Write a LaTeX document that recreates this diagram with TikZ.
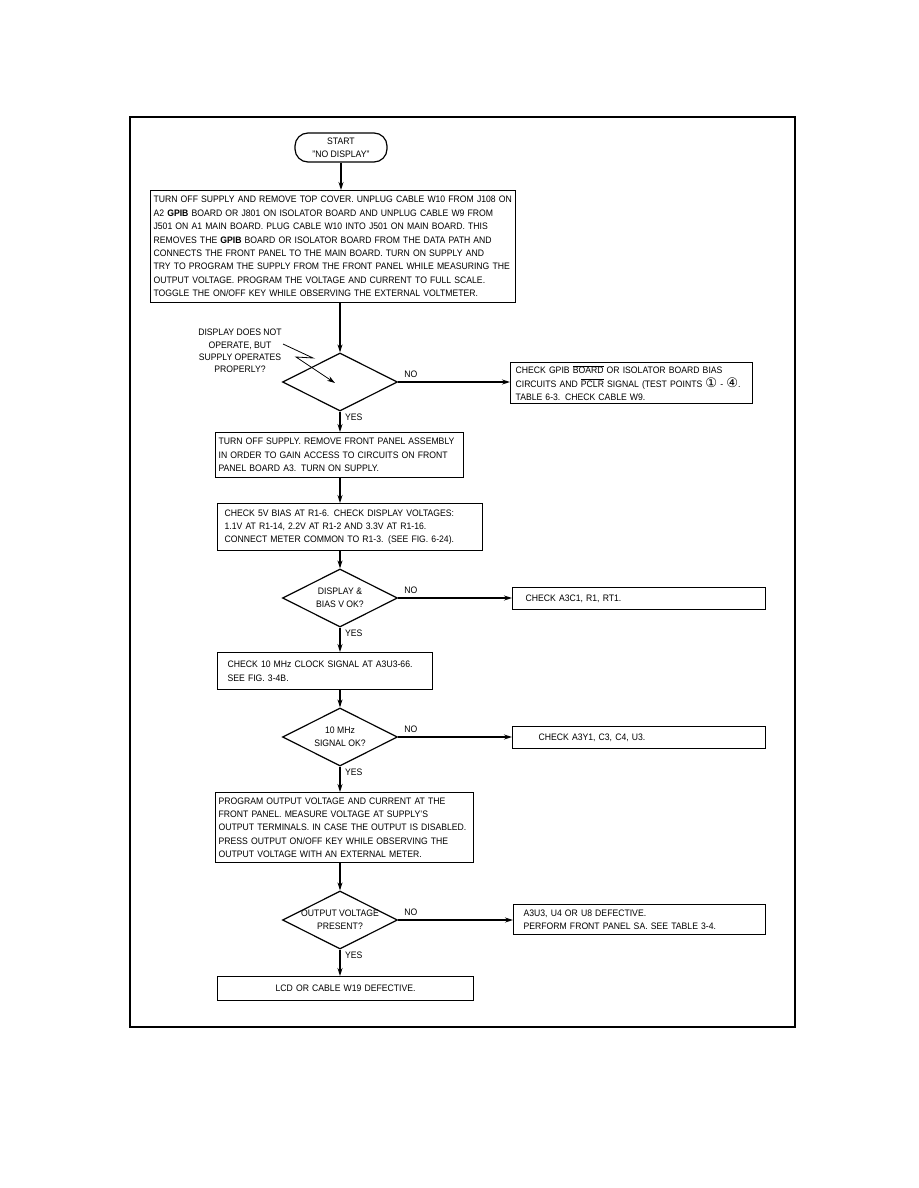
\documentclass[tikz,border=0pt]{standalone}
\usepackage{fontspec}
\setmainfont{Liberation Sans}[FakeStretch=0.92]
\newfontfamily\circfont[Scale=1.4]{DejaVu Sans}
\usetikzlibrary{shapes.geometric,arrows.meta}

\tikzset{
  box/.style={draw, line width=1.2pt, anchor=north west, align=left, inner xsep=3pt, inner ysep=0pt},
  decide/.style={draw, line width=1.2pt, diamond, aspect=2, minimum width=115pt, minimum height=58pt, inner sep=-3pt, align=center},
  arr/.style={line width=1.1pt, -{Stealth[length=8pt,width=5pt]}},
  lbl/.style={inner sep=1pt}
}

\begin{document}
\begin{tikzpicture}[x=1pt, y=-1pt, font=\fontsize{9.4}{13.4}\selectfont]

\useasboundingbox (0,0) rectangle (918,1188);
\draw[line width=2.5pt] (130,117) rectangle (795,1027);

\node[draw, line width=1.2pt, rounded corners=13pt, minimum width=92pt, minimum height=29pt, align=center] (start) at (341,147.5) {START\\"NO DISPLAY"};

\node[box, minimum width=365pt, minimum height=112pt, text width=359pt] (b1) at (150,190)
  {TURN OFF SUPPLY AND REMOVE TOP COVER. UNPLUG CABLE W10 FROM J108 ON\\
   A2 \textbf{GPIB} BOARD OR J801 ON ISOLATOR BOARD AND UNPLUG CABLE W9 FROM\\
   J501 ON A1 MAIN BOARD. PLUG CABLE W10 INTO J501 ON MAIN BOARD. THIS\\
   REMOVES THE \textbf{GPIB} BOARD OR ISOLATOR BOARD FROM THE DATA PATH AND\\
   CONNECTS THE FRONT PANEL TO THE MAIN BOARD. TURN ON SUPPLY AND\\
   TRY TO PROGRAM THE SUPPLY FROM THE FRONT PANEL WHILE MEASURING THE\\
   OUTPUT VOLTAGE. PROGRAM THE VOLTAGE AND CURRENT TO FULL SCALE.\\
   TOGGLE THE ON/OFF KEY WHILE OBSERVING THE EXTERNAL VOLTMETER.};

\node[decide] (d1) at (340,382) {};
\node[align=center, inner sep=0pt, font=\fontsize{9.4}{12.4}\selectfont] (q1) at (240,351)
  {DISPLAY DOES NOT\\OPERATE, BUT\\SUPPLY OPERATES\\PROPERLY?};
\coordinate (z1) at (283,344);
\coordinate (z2) at (313,358);
\coordinate (z3) at (296,357);
\coordinate (z4) at (335,383);

\node[box, minimum width=242pt, minimum height=41pt, text width=232pt, inner xsep=5pt] (b2) at (510,362)
  {CHECK GPIB $\overline{\mbox{BOARD}}$ OR ISOLATOR BOARD BIAS\\
   CIRCUITS AND $\overline{\mbox{PCLR}}$ SIGNAL (TEST POINTS \smash{\circfont ①} - \smash{\circfont ④}.\\
   TABLE 6-3. CHECK CABLE W9.};

\node[box, minimum width=248pt, minimum height=45pt, text width=242pt] (b3) at (215,432)
  {TURN OFF SUPPLY. REMOVE FRONT PANEL ASSEMBLY\\
   IN ORDER TO GAIN ACCESS TO CIRCUITS ON FRONT\\
   PANEL BOARD A3. TURN ON SUPPLY.};

\node[box, minimum width=265pt, minimum height=47pt, text width=251pt, inner xsep=7pt] (b4) at (217,503)
  {CHECK 5V BIAS AT R1-6. CHECK DISPLAY VOLTAGES:\\
   1.1V AT R1-14, 2.2V AT R1-2 AND 3.3V AT R1-16.\\
   CONNECT METER COMMON TO R1-3. (SEE FIG. 6-24).};

\node[decide] (d2) at (340,598) {DISPLAY \&\\BIAS V OK?};

\node[box, minimum width=253pt, minimum height=22pt, text width=235pt, inner xsep=9pt] (b5) at (512,587)
  {\hspace*{4pt}CHECK A3C1, R1, RT1.};

\node[box, minimum width=215pt, minimum height=37pt, text width=195pt, inner xsep=10pt] (b6) at (217,652)
  {CHECK 10 MHz CLOCK SIGNAL AT A3U3-66.\\
   SEE FIG. 3-4B.};

\node[decide] (d3) at (340,737) {10 MHz\\SIGNAL OK?};

\node[box, minimum width=253pt, minimum height=22pt, text width=225pt, inner xsep=14pt] (b7) at (512,726)
  {\hspace*{12pt}CHECK A3Y1, C3, C4, U3.};

\node[box, minimum width=258pt, minimum height=70pt, text width=252pt] (b8) at (215,792)
  {PROGRAM OUTPUT VOLTAGE AND CURRENT AT THE\\
   FRONT PANEL. MEASURE VOLTAGE AT SUPPLY'S\\
   OUTPUT TERMINALS. IN CASE THE OUTPUT IS DISABLED.\\
   PRESS OUTPUT ON/OFF KEY WHILE OBSERVING THE\\
   OUTPUT VOLTAGE WITH AN EXTERNAL METER.};

\node[decide] (d4) at (340,920) {OUTPUT VOLTAGE\\PRESENT?};

\node[box, minimum width=252pt, minimum height=30pt, text width=232pt, inner xsep=10pt] (b9) at (513,904)
  {A3U3, U4 OR U8 DEFECTIVE.\\
   PERFORM FRONT PANEL SA. SEE TABLE 3-4.};

\node[box, minimum width=256pt, minimum height=24pt, text width=250pt, align=center] (b10) at (217,976)
  {LCD OR CABLE W19 DEFECTIVE.};

% main column
\draw[arr] (start) -- (start |- b1.north);
\draw[arr] (d1 |- b1.south) -- (d1);
\draw[arr] (d1) -- (d1 |- b3.north);
\draw[arr] (d1 |- b3.south) -- (d1 |- b4.north);
\draw[arr] (d2 |- b4.south) -- (d2);
\draw[arr] (d2) -- (d2 |- b6.north);
\draw[arr] (d3 |- b6.south) -- (d3);
\draw[arr] (d3) -- (d3 |- b8.north);
\draw[arr] (d4 |- b8.south) -- (d4);
\draw[arr] (d4) -- (d4 |- b10.north);

% NO branches
\draw[arr] (d1.east) -- (d1.east -| b2.west);
\draw[arr] (d2.east) -- (d2.east -| b5.west);
\draw[arr] (d3.east) -- (d3.east -| b7.west);
\draw[arr] (d4.east) -- (d4.east -| b9.west);

\draw[arr, line width=0.8pt] (z1) -- (z2) -- (z3) -- (z4);

\node[lbl, anchor=south west] (no1) at ([xshift=5pt,yshift=3pt]d1.east) {NO};
\node[lbl, anchor=south west] (no2) at ([xshift=5pt,yshift=3pt]d2.east) {NO};
\node[lbl, anchor=south west] (no3) at ([xshift=5pt,yshift=3pt]d3.east) {NO};
\node[lbl, anchor=south west] (no4) at ([xshift=5pt,yshift=3pt]d4.east) {NO};

\node[lbl, anchor=north west] (yes1) at ([xshift=4pt,yshift=-1pt]d1.south) {YES};
\node[lbl, anchor=north west] (yes2) at ([xshift=4pt,yshift=-1pt]d2.south) {YES};
\node[lbl, anchor=north west] (yes3) at ([xshift=4pt,yshift=-1pt]d3.south) {YES};
\node[lbl, anchor=north west] (yes4) at ([xshift=4pt,yshift=-1pt]d4.south) {YES};

\end{tikzpicture}
\end{document}
